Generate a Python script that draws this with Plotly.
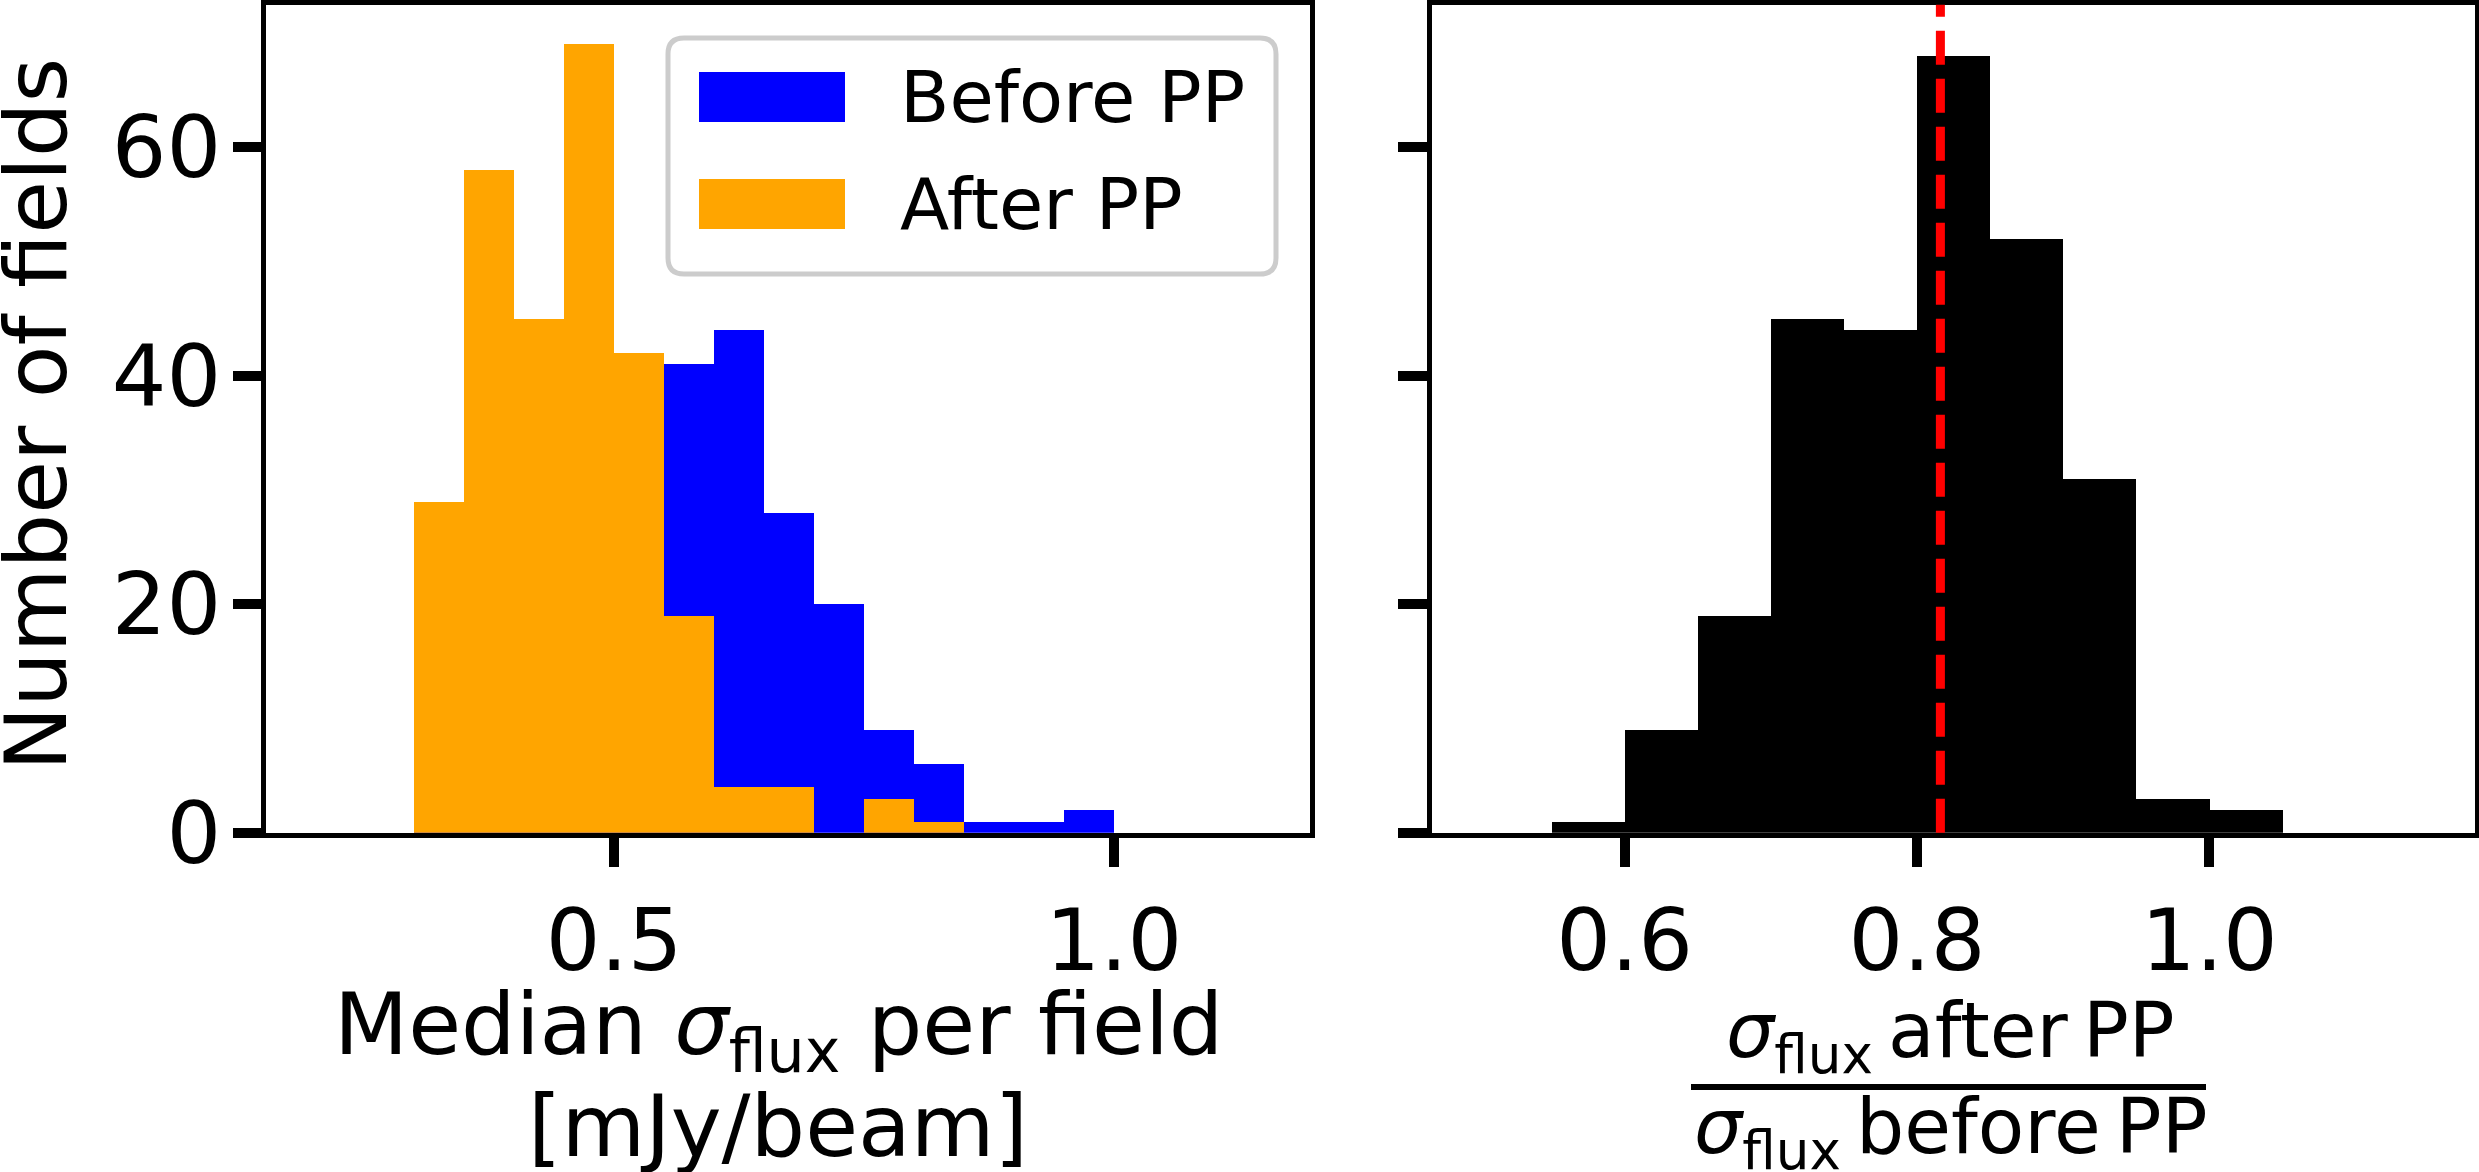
import plotly.graph_objects as go

# ---------------- data ----------------
# left panel: bins of median sigma_flux [mJy/beam] (bin left edges, width 0.05)
flux_bin_left = [0.30, 0.35, 0.40, 0.45, 0.50, 0.55, 0.60, 0.65, 0.70, 0.75, 0.80, 0.85, 0.90, 0.95]
flux_bin_width = 0.05
before_counts = [8, 18, 27, 33, 36, 41, 44, 28, 20, 9, 6, 1, 1, 2]
after_counts = [29, 58, 45, 69, 42, 19, 4, 4, 0, 3, 1, 0, 0, 0]

# right panel: ratio sigma_after / sigma_before
ratio_bin_left = [0.55, 0.60, 0.65, 0.70, 0.75, 0.80, 0.85, 0.90, 0.95, 1.00]
ratio_bin_width = 0.05
ratio_counts = [1, 9, 19, 45, 44, 68, 52, 31, 3, 2]
median_ratio = 0.816

left_xticks = [0.5, 1.0]
left_xticklabels = ["0.5", "1.0"]
right_xticks = [0.6, 0.8, 1.0]
right_xticklabels = ["0.6", "0.8", "1.0"]
yticks = [0, 20, 40, 60]
yticklabels = ["0", "20", "40", "60"]

series_names = ["Before PP", "After PP"]
series_colors = ["#0000ff", "#ffa500"]

# ---------------- figure ----------------
W, H = 2479, 1172
FONT = "DejaVu Sans"


def px(x):
    return x / W


def py(y):
    return 1 - y / H


fig = go.Figure()

flux_centers = [b + flux_bin_width / 2 for b in flux_bin_left]
ratio_centers = [b + ratio_bin_width / 2 for b in ratio_bin_left]

for name, counts, color in zip(series_names, [before_counts, after_counts], series_colors):
    fig.add_trace(go.Bar(x=flux_centers, y=counts, width=flux_bin_width, name=name,
                         marker=dict(color=color, line=dict(width=0)),
                         xaxis="x", yaxis="y", showlegend=False))

fig.add_trace(go.Bar(x=ratio_centers, y=ratio_counts, width=ratio_bin_width,
                     marker=dict(color="#000000", line=dict(width=0)),
                     xaxis="x2", yaxis="y2", showlegend=False))

axis_common = dict(showline=True, linecolor="black", linewidth=4.5, mirror=True,
                   ticks="outside", ticklen=29, tickwidth=10, tickcolor="black",
                   showgrid=False, zeroline=False, automargin=False,
                   tickfont=dict(family=FONT, size=86, color="black"))

ydom = [py(832.75), py(4.75)]

fig.update_layout(
    width=W, height=H,
    margin=dict(l=0, r=0, t=0, b=0, autoexpand=False),
    paper_bgcolor="white", plot_bgcolor="white",
    barmode="overlay", bargap=0,
    font=dict(family=FONT, color="black"),
    xaxis=dict(domain=[px(266.25), px(1309.75)], range=[0.152, 1.196],
               tickvals=left_xticks, ticktext=left_xticklabels, anchor="y", **axis_common),
    yaxis=dict(domain=ydom, range=[0, 72.45], tickvals=yticks, ticktext=yticklabels,
               anchor="x", ticklabelstandoff=-6, **axis_common),
    xaxis2=dict(domain=[px(1431.75), px(2474.75)], range=[0.468, 1.1816],
                tickvals=right_xticks, ticktext=right_xticklabels, anchor="y2", **axis_common),
    yaxis2=dict(domain=ydom, range=[0, 72.45], tickvals=yticks, ticktext=yticklabels,
                showticklabels=False, anchor="x2", **axis_common),
)

# median line
fig.add_shape(type="line", xref="x2", yref="y2 domain", x0=median_ratio, x1=median_ratio,
              y0=0, y1=1, line=dict(color="red", width=9, dash="34px,14px"))

# ---- legend (drawn manually to match large patches) ----
bx0, bx1, by0, by1, r = 668, 1276, 38, 274, 16
path = (f"M {px(bx0 + r)} {py(by0)} L {px(bx1 - r)} {py(by0)} "
        f"Q {px(bx1)} {py(by0)} {px(bx1)} {py(by0 + r)} "
        f"L {px(bx1)} {py(by1 - r)} Q {px(bx1)} {py(by1)} {px(bx1 - r)} {py(by1)} "
        f"L {px(bx0 + r)} {py(by1)} Q {px(bx0)} {py(by1)} {px(bx0)} {py(by1 - r)} "
        f"L {px(bx0)} {py(by0 + r)} Q {px(bx0)} {py(by0)} {px(bx0 + r)} {py(by0)} Z")
fig.add_shape(type="path", xref="paper", yref="paper", path=path,
              fillcolor="rgba(255,255,255,0.8)", line=dict(color="#cccccc", width=5))
patch_y = [(72, 122), (179, 229)]
text_y = [97, 204]
for (y0, y1), ty, name, color in zip(patch_y, text_y, series_names, series_colors):
    fig.add_shape(type="rect", xref="paper", yref="paper", x0=px(699), x1=px(845),
                  y0=py(y1), y1=py(y0), fillcolor=color, line=dict(width=0))
    fig.add_annotation(xref="paper", yref="paper", x=px(898), y=py(ty), text=name,
                       showarrow=False, xanchor="left", yanchor="middle",
                       font=dict(family=FONT, size=72, color="black"))

# ---- axis labels ----
fig.add_annotation(xref="paper", yref="paper", x=px(36), y=py(415), text="Number of fields",
                   textangle=-90, showarrow=False, xanchor="center", yanchor="middle",
                   font=dict(family=FONT, size=86, color="black"))
fig.add_annotation(xref="paper", yref="paper", x=px(778), y=py(1030),
                   text="Median <i>σ</i><sub>flux</sub> per field",
                   showarrow=False, xanchor="center", yanchor="middle",
                   font=dict(family=FONT, size=86, color="black"))
fig.add_annotation(xref="paper", yref="paper", x=px(778), y=py(1126), text="[mJy/beam]",
                   showarrow=False, xanchor="center", yanchor="middle",
                   font=dict(family=FONT, size=86, color="black"))

fig.add_annotation(xref="paper", yref="paper", x=px(1950), y=py(1036),
                   text="<i>σ</i><sub>flux</sub>\u2009after\u2009PP",
                   showarrow=False, xanchor="center", yanchor="middle",
                   font=dict(family=FONT, size=76, color="black"))
fig.add_shape(type="line", xref="paper", yref="paper", x0=px(1691), x1=px(2206),
              y0=py(1087), y1=py(1087), line=dict(color="black", width=6))
fig.add_annotation(xref="paper", yref="paper", x=px(1950), y=py(1132),
                   text="<i>σ</i><sub>flux</sub>\u2009before\u2009PP",
                   showarrow=False, xanchor="center", yanchor="middle",
                   font=dict(family=FONT, size=76, color="black"))

fig.write_html("out.html", config={"displayModeBar": False},
               post_script="document.body.style.margin='0';")
